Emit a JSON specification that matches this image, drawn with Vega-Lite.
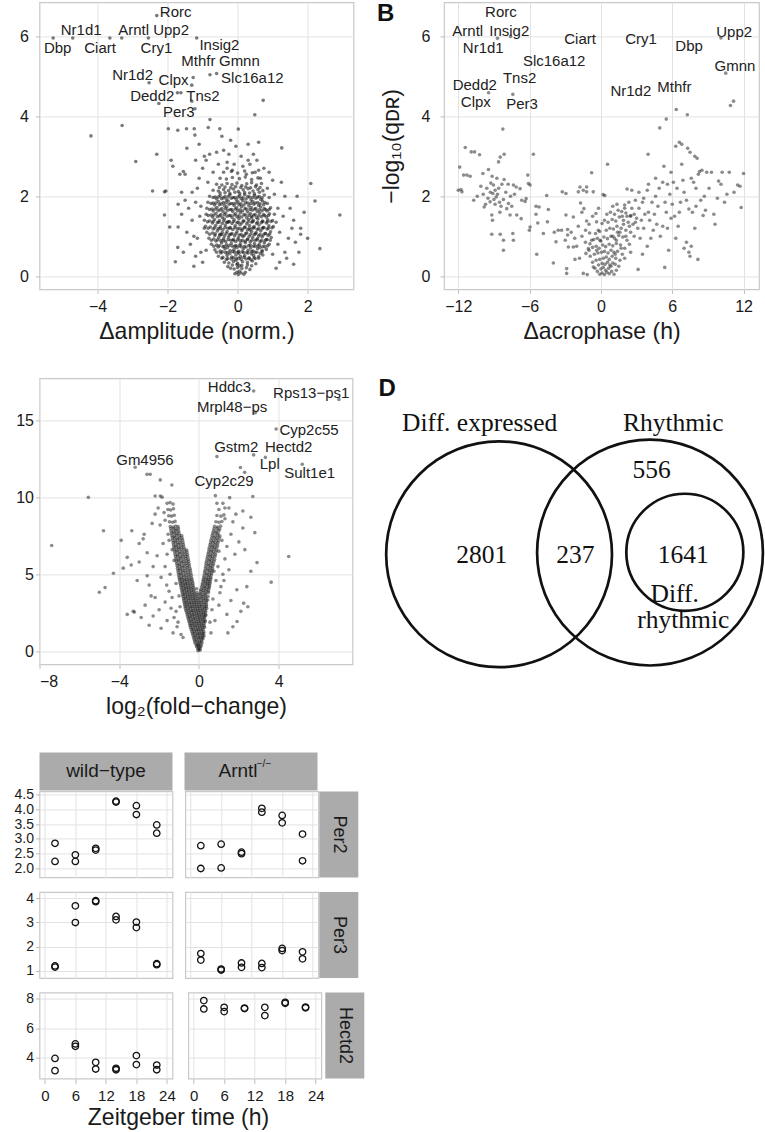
{
"$schema": "https://vega.github.io/schema/vega-lite/v6.json",
"autosize": {"type": "pad"},
"padding": {"left": 12.5, "top": 1.4, "right": 0, "bottom": 0},
"background": "white",
"config": {
  "font": "Liberation Sans",
  "view": {"stroke": "#c9c9c9", "strokeWidth": 1.2},
  "axis": {"domain": false, "gridColor": "#e2e2e2", "gridWidth": 1, "tickColor": "#bdbdbd", "tickSize": 4, "labelColor": "#1a1a1a", "titleColor": "#1a1a1a", "labelFont": "Liberation Sans", "titleFont": "Liberation Sans", "titleFontWeight": "normal", "labelFontSize": 16, "titleFontSize": 23, "labelPadding": 5, "titlePadding": 6}
},
"datasets": {
"A": [
{"x":-5.27,"y":5.96},{"x":-4.71,"y":5.96},{"x":-3.65,"y":5.96},{"x":-3.31,"y":5.96},{"x":-2.55,"y":5.96},{"x":-1.17,"y":5.96},{"x":-2.31,"y":6.52},{"x":-0.79,"y":5.04},{"x":-0.6,"y":5.07},{"x":-1.27,"y":4.97},{"x":-2.53,"y":4.84},{"x":-1.31,"y":4.78},{"x":-1.62,"y":4.59},{"x":-1.72,"y":4.59},{"x":-1.31,"y":4.38},{"x":-2.25,"y":4.32},{"x":-1.22,"y":4.19},{"x":-0.79,"y":3.92},{"x":-0.84,"y":3.72},{"x":-0.51,"y":3.69},{"x":0.02,"y":3.68},{"x":-1.98,"y":3.69},{"x":-1.71,"y":3.65},{"x":-1.46,"y":3.69},{"x":-1.24,"y":3.69},{"x":-1.22,"y":3.53},{"x":0.73,"y":4.4},{"x":0.49,"y":4.04},{"x":-4.19,"y":3.51},{"x":-3.3,"y":3.77},{"x":-2.91,"y":2.87},{"x":-2.31,"y":3.05},{"x":-2.43,"y":2.13},{"x":-2.09,"y":2.11},{"x":-2.05,"y":2.13},{"x":-2.09,"y":1.53},{"x":-1.71,"y":0.72},{"x":-1.94,"y":1.23},{"x":-1.7,"y":1.23},{"x":-1.78,"y":0.36},{"x":-1.9,"y":2.9},{"x":-1.85,"y":2.75},{"x":-1.65,"y":2.55},{"x":-1.55,"y":2.62},{"x":-1.5,"y":2.55},{"x":-1.45,"y":3.2},{"x":-1.2,"y":2.9},{"x":-1.1,"y":3.3},{"x":-0.95,"y":3.0},{"x":-0.8,"y":3.05},{"x":-0.9,"y":2.9},{"x":-0.6,"y":3.1},{"x":-0.4,"y":3.15},{"x":-0.25,"y":3.05},{"x":-0.05,"y":3.25},{"x":0.1,"y":3.0},{"x":0.35,"y":2.8},{"x":0.45,"y":3.05},{"x":0.55,"y":2.9},{"x":0.75,"y":2.7},{"x":0.9,"y":2.6},{"x":1.26,"y":3.21},{"x":2.92,"y":1.53},{"x":2.21,"y":1.88},{"x":2.09,"y":2.32},{"x":2.35,"y":0.69},{"x":1.8,"y":1.2},{"x":1.8,"y":1.05},{"x":1.75,"y":0.6},{"x":1.6,"y":1.4},{"x":1.5,"y":1.7},{"x":1.45,"y":0.95},{"x":1.4,"y":0.45},{"x":1.3,"y":1.5},{"x":1.35,"y":2.0},{"x":1.25,"y":2.35},{"x":1.2,"y":1.1},{"x":1.1,"y":0.2},{"x":1.15,"y":0.8},{"x":-1.4,"y":1.7},{"x":-1.3,"y":1.4},{"x":-1.25,"y":1.0},{"x":-1.35,"y":0.8},{"x":-1.2,"y":0.5},{"x":-1.5,"y":1.9},{"x":-1.6,"y":1.55},{"x":-1.15,"y":2.2},{"x":-1.05,"y":1.75},{"x":-1.0,"y":0.35},{"x":-1.1,"y":2.45},{"x":-0.95,"y":1.2},{"x":-0.9,"y":0.65},
{"x":-1.3,"y":2.1},{"x":-1.2,"y":1.85},{"x":-1.08,"y":1.5},{"x":-1.15,"y":0.95},{"x":-1.05,"y":0.6},{"x":1.1,"y":1.35},{"x":1.15,"y":1.7},{"x":1.05,"y":2.05},{"x":1.0,"y":0.55},{"x":1.2,"y":0.35},{"x":1.55,"y":1.2},{"x":1.65,"y":0.85},{"x":-0.7,"y":2.6},{"x":-0.55,"y":2.8},{"x":-0.3,"y":2.85},{"x":0.25,"y":2.55},{"x":0.65,"y":2.45},{"x":0.85,"y":2.2},{"x":-0.85,"y":2.35},{"x":1.0,"y":2.4},{"x":-0.45,"y":3.5},{"x":0.6,"y":3.35},{"x":-0.2,"y":3.4},{"x":0.3,"y":3.3},{"x":-1.0,"y":2.7},{"x":-1.6,"y":2.1},{"x":-1.7,"y":1.8},{"x":-1.45,"y":1.1},{"x":-1.55,"y":0.6},{"x":-1.25,"y":0.25},{"x":1.35,"y":0.6},{"x":1.6,"y":0.3},{"x":1.9,"y":1.6},{"x":1.7,"y":2.0},{"x":2.0,"y":0.95},{"x":0.5,"y":2.6},{"x":-0.15,"y":2.65},
{"x":-0.08,"y":0.06},{"x":0.02,"y":0.04},{"x":0.1,"y":0.08},{"x":0.18,"y":0.05},{"x":0.05,"y":0.12},{"x":-0.02,"y":0.1},{"x":0.22,"y":0.1},
{"x":-0.2,"y":0.2},{"x":-0.1,"y":0.18},{"x":0.0,"y":0.22},{"x":0.12,"y":0.19},{"x":0.25,"y":0.21},{"x":0.35,"y":0.17},{"x":-0.28,"y":0.24},{"x":0.06,"y":0.26},
{"x":-0.38,"y":0.35},{"x":-0.25,"y":0.33},{"x":-0.12,"y":0.37},{"x":0.0,"y":0.32},{"x":0.14,"y":0.36},{"x":0.28,"y":0.34},{"x":0.42,"y":0.38},{"x":0.52,"y":0.31},{"x":-0.05,"y":0.4},
{"x":-0.55,"y":0.5},{"x":-0.42,"y":0.47},{"x":-0.3,"y":0.52},{"x":-0.17,"y":0.48},{"x":-0.05,"y":0.53},{"x":0.08,"y":0.49},{"x":0.2,"y":0.51},{"x":0.33,"y":0.46},{"x":0.46,"y":0.52},{"x":0.6,"y":0.49},{"x":0.72,"y":0.53},{"x":0.4,"y":0.56},
{"x":-0.65,"y":0.66},{"x":-0.5,"y":0.63},{"x":-0.36,"y":0.68},{"x":-0.22,"y":0.64},{"x":-0.1,"y":0.67},{"x":0.03,"y":0.62},{"x":0.16,"y":0.68},{"x":0.3,"y":0.65},{"x":0.44,"y":0.63},{"x":0.57,"y":0.69},{"x":0.7,"y":0.64},{"x":0.82,"y":0.67},
{"x":-0.75,"y":0.8},{"x":-0.6,"y":0.78},{"x":-0.46,"y":0.83},{"x":-0.32,"y":0.79},{"x":-0.18,"y":0.82},{"x":-0.05,"y":0.77},{"x":0.08,"y":0.81},{"x":0.22,"y":0.84},{"x":0.36,"y":0.78},{"x":0.48,"y":0.82},{"x":0.62,"y":0.79},{"x":0.76,"y":0.83},{"x":0.9,"y":0.8},
{"x":-0.82,"y":0.95},{"x":-0.68,"y":0.93},{"x":-0.54,"y":0.97},{"x":-0.4,"y":0.94},{"x":-0.26,"y":0.98},{"x":-0.12,"y":0.92},{"x":0.02,"y":0.96},{"x":0.15,"y":0.99},{"x":0.29,"y":0.93},{"x":0.43,"y":0.97},{"x":0.57,"y":0.94},{"x":0.7,"y":0.98},{"x":0.84,"y":0.92},{"x":0.96,"y":0.97},
{"x":-0.88,"y":1.1},{"x":-0.72,"y":1.08},{"x":-0.58,"y":1.13},{"x":-0.44,"y":1.09},{"x":-0.3,"y":1.12},{"x":-0.16,"y":1.07},{"x":-0.02,"y":1.11},{"x":0.12,"y":1.14},{"x":0.26,"y":1.08},{"x":0.4,"y":1.12},{"x":0.53,"y":1.09},{"x":0.66,"y":1.13},{"x":0.8,"y":1.07},{"x":0.94,"y":1.11},{"x":0.35,"y":1.16},{"x":-0.5,"y":1.05},
{"x":-0.92,"y":1.25},{"x":-0.78,"y":1.23},{"x":-0.63,"y":1.27},{"x":-0.49,"y":1.24},{"x":-0.35,"y":1.28},{"x":-0.21,"y":1.22},{"x":-0.07,"y":1.26},{"x":0.07,"y":1.29},{"x":0.21,"y":1.23},{"x":0.34,"y":1.27},{"x":0.47,"y":1.24},{"x":0.61,"y":1.28},{"x":0.75,"y":1.22},{"x":0.89,"y":1.26},{"x":1.02,"y":1.24},
{"x":-0.95,"y":1.4},{"x":-0.8,"y":1.38},{"x":-0.66,"y":1.42},{"x":-0.52,"y":1.39},{"x":-0.38,"y":1.43},{"x":-0.24,"y":1.37},{"x":-0.1,"y":1.41},{"x":0.04,"y":1.44},{"x":0.18,"y":1.38},{"x":0.32,"y":1.42},{"x":0.45,"y":1.39},{"x":0.58,"y":1.43},{"x":0.72,"y":1.37},{"x":0.86,"y":1.41},{"x":1.0,"y":1.39},{"x":0.4,"y":1.46},{"x":-0.3,"y":1.35},
{"x":-0.9,"y":1.55},{"x":-0.76,"y":1.53},{"x":-0.62,"y":1.57},{"x":-0.48,"y":1.54},{"x":-0.34,"y":1.58},{"x":-0.2,"y":1.52},{"x":-0.06,"y":1.56},{"x":0.08,"y":1.59},{"x":0.22,"y":1.53},{"x":0.36,"y":1.57},{"x":0.5,"y":1.54},{"x":0.63,"y":1.58},{"x":0.77,"y":1.52},{"x":0.91,"y":1.56},{"x":1.05,"y":1.55},
{"x":-0.88,"y":1.7},{"x":-0.73,"y":1.68},{"x":-0.59,"y":1.72},{"x":-0.45,"y":1.69},{"x":-0.31,"y":1.73},{"x":-0.17,"y":1.67},{"x":-0.03,"y":1.71},{"x":0.11,"y":1.74},{"x":0.25,"y":1.68},{"x":0.39,"y":1.72},{"x":0.52,"y":1.69},{"x":0.66,"y":1.73},{"x":0.8,"y":1.67},{"x":0.94,"y":1.71},
{"x":-0.85,"y":1.85},{"x":-0.7,"y":1.83},{"x":-0.55,"y":1.87},{"x":-0.41,"y":1.84},{"x":-0.27,"y":1.88},{"x":-0.13,"y":1.82},{"x":0.01,"y":1.86},{"x":0.15,"y":1.89},{"x":0.29,"y":1.83},{"x":0.43,"y":1.87},{"x":0.57,"y":1.84},{"x":0.71,"y":1.88},{"x":0.85,"y":1.82},
{"x":-0.8,"y":2.0},{"x":-0.64,"y":1.98},{"x":-0.5,"y":2.02},{"x":-0.36,"y":1.99},{"x":-0.22,"y":2.03},{"x":-0.08,"y":1.97},{"x":0.06,"y":2.01},{"x":0.2,"y":2.04},{"x":0.34,"y":1.98},{"x":0.48,"y":2.02},{"x":0.62,"y":1.99},{"x":0.76,"y":2.03},{"x":0.9,"y":1.97},
{"x":-0.7,"y":2.15},{"x":-0.55,"y":2.13},{"x":-0.4,"y":2.17},{"x":-0.26,"y":2.14},{"x":-0.12,"y":2.18},{"x":0.02,"y":2.12},{"x":0.16,"y":2.16},{"x":0.3,"y":2.19},{"x":0.44,"y":2.13},{"x":0.58,"y":2.17},{"x":0.72,"y":2.14},
{"x":-0.6,"y":2.3},{"x":-0.45,"y":2.28},{"x":-0.3,"y":2.32},{"x":-0.16,"y":2.29},{"x":-0.02,"y":2.33},{"x":0.12,"y":2.27},{"x":0.26,"y":2.31},{"x":0.4,"y":2.34},{"x":0.54,"y":2.28},{"x":0.68,"y":2.32},
{"x":-0.5,"y":2.45},{"x":-0.32,"y":2.43},{"x":-0.15,"y":2.47},{"x":0.05,"y":2.44},{"x":0.22,"y":2.48},{"x":0.4,"y":2.42},{"x":0.58,"y":2.46},
{"x":-0.4,"y":2.6},{"x":-0.18,"y":2.62},{"x":0.0,"y":2.58},{"x":0.2,"y":2.63},{"x":0.42,"y":2.59},{"x":0.6,"y":2.65},{"x":0.15,"y":2.75},{"x":-0.1,"y":2.8},{"x":0.3,"y":2.9},{"x":-0.3,"y":2.7},
{"x":-0.32,"y":0.42},{"x":-0.18,"y":0.43},{"x":-0.04,"y":0.44},{"x":0.1,"y":0.42},{"x":0.24,"y":0.43},{"x":0.38,"y":0.41},{"x":0.5,"y":0.44},
{"x":-0.48,"y":0.58},{"x":-0.35,"y":0.59},{"x":-0.22,"y":0.57},{"x":-0.09,"y":0.6},{"x":0.04,"y":0.57},{"x":0.17,"y":0.59},{"x":0.3,"y":0.58},{"x":0.5,"y":0.6},{"x":0.65,"y":0.57},
{"x":-0.56,"y":0.73},{"x":-0.42,"y":0.74},{"x":-0.29,"y":0.72},{"x":-0.15,"y":0.75},{"x":-0.02,"y":0.72},{"x":0.1,"y":0.74},{"x":0.24,"y":0.73},{"x":0.37,"y":0.71},{"x":0.5,"y":0.75},{"x":0.64,"y":0.72},{"x":0.78,"y":0.74},
{"x":-0.62,"y":0.88},{"x":-0.48,"y":0.89},{"x":-0.34,"y":0.87},{"x":-0.2,"y":0.9},{"x":-0.06,"y":0.87},{"x":0.08,"y":0.89},{"x":0.22,"y":0.88},{"x":0.36,"y":0.86},{"x":0.5,"y":0.9},{"x":0.64,"y":0.87},{"x":0.78,"y":0.89},
{"x":-0.65,"y":1.02},{"x":-0.51,"y":1.03},{"x":-0.37,"y":1.01},{"x":-0.23,"y":1.04},{"x":-0.09,"y":1.01},{"x":0.05,"y":1.03},{"x":0.19,"y":1.02},{"x":0.33,"y":1.0},{"x":0.47,"y":1.04},{"x":0.6,"y":1.01},{"x":0.73,"y":1.03},{"x":0.87,"y":1.02},
{"x":-0.7,"y":1.18},{"x":-0.56,"y":1.19},{"x":-0.42,"y":1.17},{"x":-0.28,"y":1.2},{"x":-0.14,"y":1.17},{"x":0.0,"y":1.19},{"x":0.14,"y":1.18},{"x":0.28,"y":1.16},{"x":0.42,"y":1.2},{"x":0.56,"y":1.17},{"x":0.7,"y":1.19},{"x":0.84,"y":1.18},
{"x":-0.72,"y":1.33},{"x":-0.58,"y":1.34},{"x":-0.44,"y":1.32},{"x":-0.3,"y":1.35},{"x":-0.16,"y":1.32},{"x":-0.02,"y":1.34},{"x":0.12,"y":1.33},{"x":0.26,"y":1.31},{"x":0.4,"y":1.35},{"x":0.54,"y":1.32},{"x":0.68,"y":1.34},{"x":0.82,"y":1.33},
{"x":-0.72,"y":1.48},{"x":-0.58,"y":1.49},{"x":-0.44,"y":1.47},{"x":-0.3,"y":1.5},{"x":-0.16,"y":1.47},{"x":-0.02,"y":1.49},{"x":0.12,"y":1.48},{"x":0.26,"y":1.46},{"x":0.4,"y":1.5},{"x":0.54,"y":1.47},{"x":0.68,"y":1.49},{"x":0.82,"y":1.48},
{"x":-0.7,"y":1.63},{"x":-0.56,"y":1.64},{"x":-0.42,"y":1.62},{"x":-0.28,"y":1.65},{"x":-0.14,"y":1.62},{"x":0.0,"y":1.64},{"x":0.14,"y":1.63},{"x":0.28,"y":1.61},{"x":0.42,"y":1.65},{"x":0.56,"y":1.62},{"x":0.7,"y":1.64},{"x":0.84,"y":1.63},
{"x":-0.66,"y":1.78},{"x":-0.52,"y":1.79},{"x":-0.38,"y":1.77},{"x":-0.24,"y":1.8},{"x":-0.1,"y":1.77},{"x":0.04,"y":1.79},{"x":0.18,"y":1.78},{"x":0.32,"y":1.76},{"x":0.46,"y":1.8},{"x":0.6,"y":1.77},{"x":0.74,"y":1.79},
{"x":-0.6,"y":1.93},{"x":-0.46,"y":1.94},{"x":-0.32,"y":1.92},{"x":-0.18,"y":1.95},{"x":-0.04,"y":1.92},{"x":0.1,"y":1.94},{"x":0.24,"y":1.93},{"x":0.38,"y":1.91},{"x":0.52,"y":1.95},{"x":0.66,"y":1.92},
{"x":-0.5,"y":2.08},{"x":-0.36,"y":2.09},{"x":-0.22,"y":2.07},{"x":-0.08,"y":2.1},{"x":0.06,"y":2.07},{"x":0.2,"y":2.09},{"x":0.34,"y":2.08},{"x":0.48,"y":2.06},{"x":0.62,"y":2.1},
{"x":-0.15,"y":0.28},{"x":-0.02,"y":0.29},{"x":0.12,"y":0.27},{"x":0.28,"y":0.28},{"x":0.4,"y":0.26},
{"x":-0.45,"y":0.45},{"x":-0.28,"y":0.44},{"x":-0.12,"y":0.46},{"x":0.03,"y":0.45},{"x":0.18,"y":0.47},{"x":0.32,"y":0.44},{"x":0.47,"y":0.46},{"x":0.6,"y":0.45},
{"x":-0.6,"y":0.6},{"x":-0.44,"y":0.61},{"x":-0.29,"y":0.59},{"x":-0.14,"y":0.62},{"x":0.0,"y":0.6},{"x":0.13,"y":0.61},{"x":0.26,"y":0.59},{"x":0.4,"y":0.62},{"x":0.55,"y":0.6},{"x":0.7,"y":0.61},
{"x":-0.68,"y":0.75},{"x":-0.52,"y":0.76},{"x":-0.38,"y":0.74},{"x":-0.24,"y":0.77},{"x":-0.08,"y":0.75},{"x":0.05,"y":0.76},{"x":0.19,"y":0.74},{"x":0.32,"y":0.77},{"x":0.45,"y":0.75},{"x":0.58,"y":0.76},{"x":0.72,"y":0.74},{"x":0.86,"y":0.76},
{"x":-0.75,"y":0.9},{"x":-0.57,"y":0.91},{"x":-0.41,"y":0.89},{"x":-0.27,"y":0.92},{"x":-0.13,"y":0.9},{"x":0.0,"y":0.91},{"x":0.14,"y":0.89},{"x":0.28,"y":0.92},{"x":0.41,"y":0.9},{"x":0.55,"y":0.91},{"x":0.68,"y":0.89},{"x":0.82,"y":0.92},{"x":0.93,"y":0.9},
{"x":-0.8,"y":1.05},{"x":-0.64,"y":1.06},{"x":-0.46,"y":1.04},{"x":-0.33,"y":1.07},{"x":-0.19,"y":1.05},{"x":-0.05,"y":1.06},{"x":0.1,"y":1.04},{"x":0.23,"y":1.07},{"x":0.37,"y":1.05},{"x":0.51,"y":1.06},{"x":0.64,"y":1.04},{"x":0.78,"y":1.07},{"x":0.91,"y":1.05},
{"x":-0.84,"y":1.2},{"x":-0.66,"y":1.21},{"x":-0.5,"y":1.19},{"x":-0.36,"y":1.22},{"x":-0.22,"y":1.2},{"x":-0.08,"y":1.21},{"x":0.06,"y":1.19},{"x":0.2,"y":1.22},{"x":0.33,"y":1.2},{"x":0.47,"y":1.21},{"x":0.6,"y":1.19},{"x":0.73,"y":1.22},{"x":0.88,"y":1.2},{"x":0.98,"y":1.21},
{"x":-0.86,"y":1.36},{"x":-0.7,"y":1.37},{"x":-0.54,"y":1.35},{"x":-0.4,"y":1.38},{"x":-0.25,"y":1.36},{"x":-0.12,"y":1.37},{"x":0.02,"y":1.35},{"x":0.16,"y":1.38},{"x":0.3,"y":1.36},{"x":0.43,"y":1.37},{"x":0.57,"y":1.35},{"x":0.71,"y":1.38},{"x":0.85,"y":1.36},{"x":0.95,"y":1.37},
{"x":-0.84,"y":1.52},{"x":-0.68,"y":1.53},{"x":-0.52,"y":1.51},{"x":-0.38,"y":1.54},{"x":-0.24,"y":1.52},{"x":-0.1,"y":1.53},{"x":0.04,"y":1.51},{"x":0.18,"y":1.54},{"x":0.32,"y":1.52},{"x":0.46,"y":1.53},{"x":0.6,"y":1.51},{"x":0.74,"y":1.54},{"x":0.88,"y":1.52},
{"x":-0.8,"y":1.67},{"x":-0.64,"y":1.68},{"x":-0.5,"y":1.66},{"x":-0.35,"y":1.69},{"x":-0.21,"y":1.67},{"x":-0.07,"y":1.68},{"x":0.07,"y":1.66},{"x":0.21,"y":1.69},{"x":0.35,"y":1.67},{"x":0.49,"y":1.68},{"x":0.62,"y":1.66},{"x":0.76,"y":1.69},{"x":0.9,"y":1.67},
{"x":-0.76,"y":1.82},{"x":-0.62,"y":1.83},{"x":-0.47,"y":1.81},{"x":-0.33,"y":1.84},{"x":-0.19,"y":1.82},{"x":-0.05,"y":1.83},{"x":0.09,"y":1.81},{"x":0.23,"y":1.84},{"x":0.37,"y":1.82},{"x":0.5,"y":1.83},{"x":0.64,"y":1.81},{"x":0.78,"y":1.84},
{"x":-0.7,"y":1.97},{"x":-0.55,"y":1.98},{"x":-0.41,"y":1.96},{"x":-0.27,"y":1.99},{"x":-0.13,"y":1.97},{"x":0.01,"y":1.98},{"x":0.15,"y":1.96},{"x":0.29,"y":1.99},{"x":0.43,"y":1.97},{"x":0.57,"y":1.98},{"x":0.7,"y":1.96},
{"x":-0.52,"y":2.22},{"x":-0.36,"y":2.23},{"x":-0.2,"y":2.21},{"x":-0.06,"y":2.24},{"x":0.09,"y":2.22},{"x":0.23,"y":2.23},{"x":0.37,"y":2.21},{"x":0.51,"y":2.24},{"x":0.64,"y":2.22}
],
"Al": [
{"x":-1.77,"y":6.62,"g":"Rorc"},{"x":-4.47,"y":6.15,"g":"Nr1d1"},{"x":-2.97,"y":6.15,"g":"Arntl"},{"x":-1.9,"y":6.15,"g":"Upp2"},{"x":-5.14,"y":5.7,"g":"Dbp"},{"x":-3.93,"y":5.7,"g":"Ciart"},{"x":-2.32,"y":5.7,"g":"Cry1"},{"x":-0.52,"y":5.78,"g":"Insig2"},{"x":-1.12,"y":5.38,"g":"Mthfr"},{"x":0.05,"y":5.38,"g":"Gmnn"},{"x":-3.0,"y":5.03,"g":"Nr1d2"},{"x":-1.83,"y":4.92,"g":"Clpx"},{"x":0.42,"y":4.95,"g":"Slc16a12"},{"x":-2.44,"y":4.52,"g":"Dedd2"},{"x":-0.99,"y":4.52,"g":"Tns2"},{"x":-1.68,"y":4.1,"g":"Per3"}
],
"B": [
{"x":10.1,"y":5.96},{"x":10.5,"y":5.08},{"x":-8.7,"y":5.95},{"x":-7.6,"y":6.0},{"x":-9.45,"y":4.59},{"x":-7.41,"y":4.55},
{"x":-11.88,"y":2.73},{"x":-11.77,"y":2.17},{"x":-11.69,"y":2.11},{"x":-11.41,"y":3.22},{"x":-11.55,"y":2.53},{"x":-11.27,"y":2.53},{"x":-10.91,"y":3.11},{"x":-10.63,"y":3.11},{"x":-10.21,"y":3.04},{"x":-9.93,"y":2.57},{"x":-9.46,"y":2.67},{"x":-9.82,"y":1.73},{"x":-9.26,"y":2.33},{"x":-9.04,"y":2.28},{"x":-9.09,"y":2.07},{"x":-8.81,"y":1.98},{"x":-9.32,"y":1.86},{"x":-8.53,"y":1.85},{"x":-8.2,"y":1.92},{"x":-8.33,"y":2.3},{"x":-8.14,"y":2.42},{"x":-8.61,"y":2.86},{"x":-8.47,"y":2.98},{"x":-8.14,"y":3.05},{"x":-8.25,"y":3.68},{"x":-9.18,"y":1.53},{"x":-9.12,"y":1.4},{"x":-9.18,"y":1.05},{"x":-8.47,"y":1.05},{"x":-8.2,"y":0.9},{"x":-8.2,"y":0.65},{"x":-7.78,"y":1.82},{"x":-7.64,"y":1.53},{"x":-7.41,"y":1.07},{"x":-7.36,"y":0.9},{"x":-7.92,"y":1.69},{"x":-7.08,"y":1.53},{"x":-7.36,"y":2.28},{"x":-7.13,"y":2.23},{"x":-6.8,"y":2.19},{"x":-7.27,"y":2.05},{"x":-6.66,"y":1.9},{"x":-6.38,"y":1.87},{"x":-6.29,"y":1.94},{"x":-6.71,"y":1.44},{"x":-5.96,"y":1.23},{"x":-6.02,"y":1.15},{"x":-6.15,"y":2.53},{"x":-6.1,"y":2.32},{"x":-5.96,"y":2.28},{"x":-5.68,"y":3.05},{"x":-5.46,"y":1.75},{"x":-5.2,"y":1.73},{"x":-5.46,"y":1.55},{"x":-5.4,"y":0.55},{"x":-5.31,"y":1.33},{"x":-4.84,"y":1.07},{"x":-4.56,"y":2.02},{"x":-4.42,"y":1.67},{"x":-4.5,"y":1.36},{"x":-4.0,"y":0.33},{"x":-3.92,"y":1.1},{"x":-3.78,"y":0.86},{"x":-3.59,"y":1.15},{"x":-3.31,"y":1.15},{"x":-3.25,"y":2.11},{"x":-2.94,"y":2.07},{"x":-2.94,"y":1.53},{"x":-2.8,"y":1.17},{"x":-2.8,"y":1.03},{"x":-2.74,"y":0.73},{"x":-2.88,"y":0.19},{"x":-2.88,"y":0.07},{"x":-2.32,"y":1.48},{"x":-2.32,"y":0.73},{"x":-2.18,"y":0.42},{"x":-2.04,"y":0.75},{"x":-1.76,"y":2.23},{"x":-1.9,"y":2.11},{"x":-1.71,"y":1.83},{"x":-1.48,"y":2.15},{"x":-1.43,"y":1.69},{"x":-1.2,"y":2.23},{"x":-1.2,"y":2.11},{"x":-1.2,"y":1.38},{"x":-1.29,"y":1.15},{"x":-1.26,"y":0.57},{"x":-1.06,"y":0.69},{"x":-0.78,"y":2.59},{"x":-0.64,"y":2.11},{"x":-0.45,"y":1.07},{"x":-0.78,"y":0.9},{"x":-0.92,"y":0.81},{"x":-1.15,"y":0.04},{"x":-1.48,"y":0.07},{"x":-0.64,"y":0.23},{"x":-0.42,"y":1.57},{"x":-0.36,"y":1.36},{"x":-0.22,"y":1.15},{"x":-0.08,"y":0.9},{"x":-0.36,"y":0.65},{"x":0.19,"y":2.04},{"x":0.33,"y":2.02},{"x":0.56,"y":2.8},
{"x":-9.6,"y":2.2},{"x":-9.5,"y":1.95},{"x":-9.3,"y":2.1},{"x":-8.9,"y":2.15},{"x":-8.7,"y":2.05},{"x":-8.6,"y":2.2},{"x":-8.9,"y":1.8},{"x":-9.0,"y":1.92},{"x":-8.4,"y":1.75},{"x":-8.0,"y":2.1},{"x":-7.8,"y":2.3},{"x":-9.7,"y":1.8},{"x":-10.1,"y":2.25},{"x":-9.9,"y":2.05},{"x":-8.75,"y":2.45},{"x":-9.15,"y":2.5},{"x":-8.5,"y":1.6},{"x":-7.6,"y":2.0},{"x":-7.5,"y":1.75},{"x":-10.4,"y":2.0},{"x":-10.7,"y":1.9},{"x":-11.0,"y":2.5},{"x":-12.0,"y":2.15},
{"x":-0.1,"y":0.05},{"x":0.1,"y":0.08},{"x":0.3,"y":0.04},{"x":0.5,"y":0.1},{"x":0.7,"y":0.06},{"x":0.9,"y":0.12},{"x":1.1,"y":0.05},{"x":-0.3,"y":0.12},{"x":0.0,"y":0.18},{"x":0.2,"y":0.22},{"x":0.4,"y":0.15},{"x":0.65,"y":0.2},{"x":0.85,"y":0.25},{"x":1.3,"y":0.15},{"x":-0.5,"y":0.2},{"x":-0.2,"y":0.28},{"x":0.1,"y":0.32},{"x":0.35,"y":0.3},{"x":0.55,"y":0.35},{"x":0.75,"y":0.28},{"x":1.0,"y":0.33},{"x":1.2,"y":0.3},{"x":1.5,"y":0.25},{"x":-0.7,"y":0.35},{"x":-0.4,"y":0.4},{"x":-0.1,"y":0.42},{"x":0.2,"y":0.45},{"x":0.45,"y":0.48},{"x":0.7,"y":0.42},{"x":0.95,"y":0.5},{"x":1.25,"y":0.45},{"x":1.6,"y":0.4},{"x":-0.9,"y":0.5},{"x":-0.55,"y":0.55},{"x":-0.25,"y":0.58},{"x":0.05,"y":0.6},{"x":0.3,"y":0.62},{"x":0.6,"y":0.58},{"x":0.85,"y":0.65},{"x":1.1,"y":0.6},{"x":1.4,"y":0.62},{"x":1.8,"y":0.55},{"x":-1.0,"y":0.65},{"x":-0.7,"y":0.72},{"x":-0.4,"y":0.75},{"x":-0.15,"y":0.7},{"x":0.15,"y":0.78},{"x":0.4,"y":0.74},{"x":0.7,"y":0.8},{"x":1.0,"y":0.76},{"x":1.3,"y":0.82},{"x":1.65,"y":0.78},{"x":2.0,"y":0.7},{"x":-1.3,"y":0.85},{"x":-0.6,"y":0.92},{"x":-0.3,"y":0.95},{"x":0.0,"y":0.88},{"x":0.25,"y":0.98},{"x":0.55,"y":0.94},{"x":0.85,"y":1.0},{"x":1.15,"y":0.95},{"x":1.5,"y":1.02},{"x":1.85,"y":0.98},{"x":2.2,"y":0.9},{"x":-1.6,"y":1.0},{"x":-0.95,"y":1.08},{"x":-0.1,"y":1.12},{"x":0.45,"y":1.15},{"x":0.75,"y":1.2},{"x":1.05,"y":1.18},{"x":1.35,"y":1.25},{"x":1.7,"y":1.2},{"x":2.1,"y":1.15},{"x":2.5,"y":1.1},{"x":-1.9,"y":1.25},{"x":-1.0,"y":1.3},{"x":0.1,"y":1.32},{"x":0.3,"y":1.4},{"x":0.6,"y":1.35},{"x":0.95,"y":1.42},{"x":1.25,"y":1.38},{"x":1.55,"y":1.48},{"x":1.9,"y":1.4},{"x":2.3,"y":1.35},{"x":2.7,"y":1.3},{"x":-0.7,"y":1.5},{"x":0.5,"y":1.55},{"x":0.8,"y":1.6},{"x":1.15,"y":1.55},{"x":1.45,"y":1.65},{"x":1.75,"y":1.62},{"x":2.1,"y":1.58},{"x":2.5,"y":1.52},{"x":-0.2,"y":1.7},{"x":1.0,"y":1.75},{"x":1.35,"y":1.8},{"x":2.0,"y":1.78},{"x":2.35,"y":1.85},{"x":-1.6,"y":1.6},{"x":-2.5,"y":1.1},{"x":-2.2,"y":0.95},{"x":-3.0,"y":0.9},{"x":-1.8,"y":0.45},
{"x":6.34,"y":4.17},{"x":7.27,"y":4.04},{"x":5.5,"y":3.93},{"x":4.95,"y":3.71},{"x":11.16,"y":4.38},{"x":10.9,"y":4.27},{"x":3.97,"y":3.05},{"x":12.0,"y":2.57},{"x":11.8,"y":1.72},{"x":8.16,"y":0.42},{"x":5.37,"y":0.22},{"x":3.13,"y":0.17},{"x":6.6,"y":3.35},{"x":6.8,"y":3.3},{"x":6.3,"y":3.25},{"x":7.5,"y":3.1},{"x":7.9,"y":3.0},{"x":8.1,"y":2.95},{"x":8.3,"y":2.62},{"x":8.5,"y":2.65},{"x":8.2,"y":2.55},{"x":8.9,"y":2.6},{"x":9.9,"y":2.38},{"x":10.1,"y":2.3},{"x":10.8,"y":2.6},{"x":11.5,"y":2.28},{"x":11.7,"y":2.25},{"x":10.6,"y":2.05},{"x":10.4,"y":1.85},{"x":9.8,"y":1.95},{"x":9.5,"y":1.55},{"x":8.6,"y":1.52},{"x":8.0,"y":1.75},{"x":7.7,"y":1.6},{"x":7.4,"y":1.68},{"x":7.9,"y":1.2},{"x":7.2,"y":0.85},{"x":7.4,"y":0.6},{"x":7.5,"y":0.5},{"x":7.6,"y":0.75},{"x":6.5,"y":1.25},{"x":6.2,"y":1.5},{"x":6.0,"y":1.8},{"x":5.8,"y":2.05},{"x":5.6,"y":2.3},{"x":5.2,"y":2.35},{"x":4.9,"y":2.2},{"x":4.6,"y":2.0},{"x":4.3,"y":1.85},{"x":4.0,"y":1.6},{"x":3.7,"y":1.55},{"x":3.4,"y":1.4},{"x":3.1,"y":1.2},{"x":2.8,"y":1.0},{"x":2.4,"y":0.8},{"x":5.3,"y":2.75},{"x":5.5,"y":1.6},{"x":5.2,"y":1.25},{"x":5.0,"y":1.0},{"x":4.7,"y":1.3},{"x":4.4,"y":1.15},{"x":4.2,"y":0.95},{"x":3.9,"y":0.75},{"x":3.5,"y":0.55},{"x":6.9,"y":2.4},{"x":7.0,"y":2.1},{"x":7.2,"y":1.9},{"x":6.7,"y":1.85},{"x":6.4,"y":2.2},{"x":6.1,"y":2.35},{"x":5.9,"y":1.45},{"x":6.6,"y":1.6},{"x":8.0,"y":2.2},{"x":8.4,"y":1.9},{"x":8.7,"y":2.0},{"x":9.1,"y":2.2},{"x":9.3,"y":2.6},{"x":7.6,"y":2.45},{"x":7.8,"y":2.35},{"x":5.6,"y":1.2},{"x":4.8,"y":1.75},{"x":4.5,"y":1.55},{"x":3.6,"y":1.95},{"x":3.9,"y":2.15},{"x":3.2,"y":2.1},{"x":2.6,"y":2.15},{"x":2.2,"y":2.18},{"x":4.1,"y":1.4},{"x":3.3,"y":0.95},{"x":2.9,"y":1.35},{"x":2.5,"y":1.5},{"x":5.9,"y":2.6},{"x":4.6,"y":2.45},{"x":9.6,"y":1.3},{"x":10.2,"y":2.6},{"x":11.2,"y":2.1},{"x":6.3,"y":0.95},{"x":5.7,"y":0.65},{"x":8.8,"y":1.65},{"x":5.4,"y":1.85},{"x":4.0,"y":2.3},{"x":2.0,"y":1.7},{"x":6.8,"y":2.8},{"x":7.3,"y":3.2},{"x":7.0,"y":0.7},
{"x":1.6,"y":1.1},{"x":1.9,"y":1.3},{"x":2.2,"y":1.5},{"x":2.6,"y":1.7},{"x":2.9,"y":1.9},{"x":1.3,"y":0.9},{"x":1.7,"y":0.7},{"x":2.1,"y":1.0},{"x":2.4,"y":1.25},{"x":2.8,"y":1.55},{"x":3.2,"y":1.7},{"x":3.5,"y":1.85},{"x":1.0,"y":1.0},{"x":1.4,"y":1.1},{"x":1.8,"y":1.5},{"x":3.0,"y":1.45},{"x":3.6,"y":1.2},{"x":2.0,"y":0.45},{"x":2.5,"y":0.6},{"x":1.2,"y":0.55}
],
"Bl": [
{"x":-8.41,"y":6.62,"g":"Rorc"},{"x":-11.2,"y":6.14,"g":"Arntl"},{"x":-7.71,"y":6.14,"g":"Insig2"},{"x":-9.9,"y":5.72,"g":"Nr1d1"},{"x":-1.75,"y":5.93,"g":"Ciart"},{"x":3.38,"y":5.93,"g":"Cry1"},{"x":7.42,"y":5.75,"g":"Dbp"},{"x":11.21,"y":6.12,"g":"Upp2"},{"x":11.28,"y":5.26,"g":"Gmnn"},{"x":-3.93,"y":5.38,"g":"Slc16a12"},{"x":-6.84,"y":4.96,"g":"Tns2"},{"x":-10.61,"y":4.78,"g":"Dedd2"},{"x":-10.52,"y":4.35,"g":"Clpx"},{"x":-6.63,"y":4.31,"g":"Per3"},{"x":2.52,"y":4.63,"g":"Nr1d2"},{"x":6.18,"y":4.73,"g":"Mthfr"}
],
"C": [
{"x":2.74,"y":16.88},{"x":7.02,"y":16.34},{"x":2.83,"y":15.48},{"x":3.87,"y":14.42},{"x":0.9,"y":12.63},{"x":2.74,"y":12.74},{"x":3.33,"y":12.58},{"x":2.08,"y":11.92},{"x":5.18,"y":12.13},{"x":-3.2,"y":11.94},{"x":2.29,"y":11.61},{"x":-5.55,"y":9.99},{"x":-7.39,"y":6.87},{"x":-4.79,"y":7.82},{"x":-4.29,"y":5.07},{"x":-4.71,"y":4.14},{"x":-5.0,"y":3.84},{"x":4.5,"y":6.15},{"x":3.62,"y":4.49},{"x":2.91,"y":5.76},{"x":-2.61,"y":11.48},{"x":-2.45,"y":11.48},{"x":-1.94,"y":11.12},{"x":-1.36,"y":10.79},{"x":-2.2,"y":10.08},{"x":-1.94,"y":10.08},{"x":0.82,"y":10.1},{"x":1.54,"y":9.97},{"x":2.7,"y":10.04},{"x":-3.37,"y":7.82},{"x":-2.75,"y":7.6},{"x":-3.24,"y":2.55},{"x":2.24,"y":3.13},{"x":1.91,"y":1.94},
{"x":-1.6,"y":6.3},{"x":-1.8,"y":7.0},{"x":-1.7,"y":5.5},{"x":-1.9,"y":4.8},{"x":-2.1,"y":6.2},{"x":-1.5,"y":3.9},{"x":-1.7,"y":3.2},{"x":-1.4,"y":2.8},{"x":-1.25,"y":2.2},{"x":-1.1,"y":1.6},{"x":-0.9,"y":1.1},{"x":-2.3,"y":5.5},{"x":-2.5,"y":4.3},{"x":-2.2,"y":3.5},{"x":-2.0,"y":2.7},{"x":-2.6,"y":6.4},{"x":-2.8,"y":7.3},{"x":-3.0,"y":5.8},{"x":-2.7,"y":3.0},{"x":-1.95,"y":8.2},{"x":-2.05,"y":9.3},{"x":-1.75,"y":9.0},{"x":-1.85,"y":10.0},{"x":-1.7,"y":8.5},{"x":-1.3,"y":1.2},{"x":-1.6,"y":2.0},{"x":-1.9,"y":1.5},{"x":-2.3,"y":2.3},{"x":-2.4,"y":3.6},{"x":-2.6,"y":4.9},{"x":-3.1,"y":4.6},{"x":-3.4,"y":5.6},{"x":-3.6,"y":6.1},{"x":-3.0,"y":7.0},{"x":-2.35,"y":8.3},{"x":-1.55,"y":7.6},{"x":-1.62,"y":4.3},{"x":-1.45,"y":5.0},{"x":-1.35,"y":3.5},{"x":-1.15,"y":2.6},{"x":-1.05,"y":1.9},{"x":-0.8,"y":0.9},{"x":-3.3,"y":2.6},{"x":-3.6,"y":2.4},{"x":-2.9,"y":2.2},{"x":-2.5,"y":1.7},{"x":-3.8,"y":5.4},{"x":-3.9,"y":7.2},{"x":-2.2,"y":8.9},{"x":-1.15,"y":4.4},{"x":-1.25,"y":5.9},{"x":-1.35,"y":6.6},{"x":-1.5,"y":7.2},{"x":-1.0,"y":3.6},{"x":-0.95,"y":2.9},
{"x":0.6,"y":1.2},{"x":0.8,"y":2.0},{"x":1.0,"y":3.0},{"x":1.1,"y":4.2},{"x":1.2,"y":5.0},{"x":1.3,"y":6.0},{"x":1.4,"y":6.8},{"x":1.6,"y":7.6},{"x":1.7,"y":8.4},{"x":0.7,"y":3.4},{"x":0.85,"y":4.6},{"x":0.95,"y":5.5},{"x":1.0,"y":6.5},{"x":1.15,"y":7.2},{"x":1.5,"y":5.3},{"x":1.8,"y":6.3},{"x":2.0,"y":7.1},{"x":2.2,"y":8.0},{"x":1.9,"y":4.0},{"x":1.6,"y":3.3},{"x":1.4,"y":2.4},{"x":1.7,"y":1.6},{"x":2.1,"y":2.6},{"x":2.4,"y":4.2},{"x":2.6,"y":5.2},{"x":2.3,"y":6.6},{"x":1.85,"y":8.9},{"x":1.5,"y":9.3},{"x":2.2,"y":9.1},{"x":1.3,"y":8.6},{"x":0.9,"y":9.6},{"x":2.6,"y":8.7},{"x":0.55,"y":1.9},{"x":0.65,"y":2.7},{"x":0.75,"y":5.2},{"x":1.05,"y":3.8},{"x":1.25,"y":4.6},{"x":1.45,"y":1.2},{"x":2.8,"y":7.7},{"x":2.45,"y":2.9},
{"x":-0.05,"y":0.05},{"x":0.05,"y":0.08},{"x":0.0,"y":0.15},
{"x":-0.12,"y":0.3},{"x":0.0,"y":0.28},{"x":0.1,"y":0.33},{"x":-0.05,"y":0.4},
{"x":-0.2,"y":0.55},{"x":-0.08,"y":0.52},{"x":0.04,"y":0.58},{"x":0.15,"y":0.54},
{"x":-0.25,"y":0.8},{"x":-0.13,"y":0.77},{"x":0.0,"y":0.83},{"x":0.12,"y":0.79},{"x":0.2,"y":0.82},
{"x":-0.3,"y":1.05},{"x":-0.18,"y":1.02},{"x":-0.06,"y":1.08},{"x":0.06,"y":1.04},{"x":0.18,"y":1.07},{"x":0.25,"y":1.0},
{"x":-0.36,"y":1.3},{"x":-0.24,"y":1.27},{"x":-0.12,"y":1.33},{"x":0.0,"y":1.29},{"x":0.12,"y":1.32},{"x":0.24,"y":1.28},
{"x":-0.42,"y":1.55},{"x":-0.3,"y":1.52},{"x":-0.18,"y":1.58},{"x":-0.06,"y":1.54},{"x":0.06,"y":1.57},{"x":0.18,"y":1.53},{"x":0.28,"y":1.56},
{"x":-0.47,"y":1.8},{"x":-0.35,"y":1.77},{"x":-0.23,"y":1.83},{"x":-0.11,"y":1.79},{"x":0.01,"y":1.82},{"x":0.13,"y":1.78},{"x":0.25,"y":1.81},
{"x":-0.52,"y":2.05},{"x":-0.4,"y":2.02},{"x":-0.28,"y":2.08},{"x":-0.16,"y":2.04},{"x":-0.04,"y":2.07},{"x":0.08,"y":2.03},{"x":0.2,"y":2.06},{"x":0.3,"y":2.02},
{"x":-0.58,"y":2.3},{"x":-0.46,"y":2.27},{"x":-0.34,"y":2.33},{"x":-0.22,"y":2.29},{"x":-0.1,"y":2.32},{"x":0.02,"y":2.28},{"x":0.14,"y":2.31},{"x":0.26,"y":2.27},{"x":0.34,"y":2.33},
{"x":-0.63,"y":2.55},{"x":-0.5,"y":2.52},{"x":-0.38,"y":2.58},{"x":-0.26,"y":2.54},{"x":-0.14,"y":2.57},{"x":-0.02,"y":2.53},{"x":0.1,"y":2.56},{"x":0.22,"y":2.52},{"x":0.34,"y":2.57},
{"x":-0.68,"y":2.8},{"x":-0.55,"y":2.77},{"x":-0.43,"y":2.83},{"x":-0.31,"y":2.79},{"x":-0.19,"y":2.82},{"x":-0.07,"y":2.78},{"x":0.05,"y":2.81},{"x":0.17,"y":2.77},{"x":0.29,"y":2.82},{"x":0.39,"y":2.78},
{"x":-0.72,"y":3.05},{"x":-0.6,"y":3.02},{"x":-0.48,"y":3.08},{"x":-0.36,"y":3.04},{"x":-0.24,"y":3.07},{"x":-0.12,"y":3.03},{"x":0.0,"y":3.06},{"x":0.13,"y":3.02},{"x":0.26,"y":3.07},{"x":0.38,"y":3.03},
{"x":-0.76,"y":3.3},{"x":-0.64,"y":3.27},{"x":-0.52,"y":3.33},{"x":-0.4,"y":3.29},{"x":-0.28,"y":3.32},{"x":-0.16,"y":3.28},{"x":-0.04,"y":3.31},{"x":0.1,"y":3.27},{"x":0.23,"y":3.32},{"x":0.36,"y":3.28},{"x":0.44,"y":3.33},
{"x":-0.8,"y":3.55},{"x":-0.68,"y":3.52},{"x":-0.56,"y":3.58},{"x":-0.44,"y":3.54},{"x":-0.32,"y":3.57},{"x":-0.2,"y":3.53},{"x":-0.07,"y":3.56},{"x":0.08,"y":3.52},{"x":0.21,"y":3.57},{"x":0.34,"y":3.53},{"x":0.46,"y":3.56},
{"x":-0.84,"y":3.8},{"x":-0.72,"y":3.77},{"x":-0.6,"y":3.83},{"x":-0.48,"y":3.79},{"x":-0.36,"y":3.82},{"x":-0.23,"y":3.78},{"x":-0.1,"y":3.81},{"x":0.06,"y":3.77},{"x":0.2,"y":3.82},{"x":0.33,"y":3.78},{"x":0.47,"y":3.81},
{"x":-0.88,"y":4.05},{"x":-0.76,"y":4.02},{"x":-0.64,"y":4.08},{"x":-0.52,"y":4.04},{"x":-0.4,"y":4.07},{"x":-0.27,"y":4.03},{"x":-0.12,"y":4.06},{"x":0.1,"y":4.02},{"x":0.24,"y":4.07},{"x":0.37,"y":4.03},{"x":0.5,"y":4.06},
{"x":-0.92,"y":4.3},{"x":-0.8,"y":4.27},{"x":-0.68,"y":4.33},{"x":-0.56,"y":4.29},{"x":-0.44,"y":4.32},{"x":-0.3,"y":4.28},{"x":0.16,"y":4.31},{"x":0.3,"y":4.27},{"x":0.42,"y":4.32},{"x":0.53,"y":4.28},
{"x":-0.96,"y":4.55},{"x":-0.84,"y":4.52},{"x":-0.72,"y":4.58},{"x":-0.6,"y":4.54},{"x":-0.47,"y":4.57},{"x":-0.33,"y":4.53},{"x":0.2,"y":4.56},{"x":0.33,"y":4.52},{"x":0.45,"y":4.57},{"x":0.56,"y":4.53},
{"x":-1.0,"y":4.8},{"x":-0.88,"y":4.77},{"x":-0.76,"y":4.83},{"x":-0.63,"y":4.79},{"x":-0.5,"y":4.82},{"x":-0.37,"y":4.78},{"x":0.24,"y":4.81},{"x":0.37,"y":4.77},{"x":0.49,"y":4.82},{"x":0.6,"y":4.78},
{"x":-1.04,"y":5.1},{"x":-0.92,"y":5.07},{"x":-0.8,"y":5.13},{"x":-0.67,"y":5.09},{"x":-0.54,"y":5.12},{"x":-0.41,"y":5.08},{"x":0.28,"y":5.11},{"x":0.41,"y":5.07},{"x":0.53,"y":5.12},{"x":0.64,"y":5.08},
{"x":-1.08,"y":5.4},{"x":-0.96,"y":5.37},{"x":-0.84,"y":5.43},{"x":-0.71,"y":5.39},{"x":-0.58,"y":5.42},{"x":-0.45,"y":5.38},{"x":0.32,"y":5.41},{"x":0.45,"y":5.37},{"x":0.57,"y":5.42},{"x":0.68,"y":5.38},
{"x":-1.12,"y":5.7},{"x":-1.0,"y":5.67},{"x":-0.88,"y":5.73},{"x":-0.75,"y":5.69},{"x":-0.62,"y":5.72},{"x":-0.5,"y":5.68},{"x":0.36,"y":5.71},{"x":0.49,"y":5.67},{"x":0.61,"y":5.72},{"x":0.73,"y":5.68},
{"x":-1.16,"y":6.0},{"x":-1.04,"y":5.97},{"x":-0.92,"y":6.03},{"x":-0.79,"y":5.99},{"x":-0.66,"y":6.02},{"x":-0.54,"y":5.98},{"x":0.4,"y":6.01},{"x":0.53,"y":5.97},{"x":0.65,"y":6.02},{"x":0.78,"y":5.98},
{"x":-1.2,"y":6.3},{"x":-1.08,"y":6.27},{"x":-0.96,"y":6.33},{"x":-0.83,"y":6.29},{"x":-0.7,"y":6.32},{"x":-0.58,"y":6.28},{"x":0.45,"y":6.31},{"x":0.58,"y":6.27},{"x":0.7,"y":6.32},{"x":0.83,"y":6.28},
{"x":-1.24,"y":6.6},{"x":-1.12,"y":6.57},{"x":-1.0,"y":6.63},{"x":-0.87,"y":6.59},{"x":-0.74,"y":6.62},{"x":-0.62,"y":6.58},{"x":0.5,"y":6.61},{"x":0.63,"y":6.57},{"x":0.75,"y":6.62},{"x":0.88,"y":6.58},
{"x":-1.28,"y":6.9},{"x":-1.16,"y":6.87},{"x":-1.04,"y":6.93},{"x":-0.91,"y":6.89},{"x":-0.78,"y":6.92},{"x":0.55,"y":6.91},{"x":0.68,"y":6.87},{"x":0.8,"y":6.92},{"x":0.93,"y":6.88},
{"x":-1.32,"y":7.2},{"x":-1.2,"y":7.17},{"x":-1.08,"y":7.23},{"x":-0.95,"y":7.19},{"x":-0.82,"y":7.22},{"x":0.6,"y":7.21},{"x":0.73,"y":7.17},{"x":0.86,"y":7.22},{"x":0.98,"y":7.18},
{"x":-1.36,"y":7.5},{"x":-1.24,"y":7.47},{"x":-1.12,"y":7.53},{"x":-0.99,"y":7.49},{"x":-0.87,"y":7.52},{"x":0.66,"y":7.51},{"x":0.8,"y":7.47},{"x":0.93,"y":7.52},{"x":1.05,"y":7.48},
{"x":-1.4,"y":7.8},{"x":-1.27,"y":7.77},{"x":-1.15,"y":7.83},{"x":-1.02,"y":7.79},{"x":0.72,"y":7.81},{"x":0.86,"y":7.77},{"x":1.0,"y":7.82},
{"x":-1.44,"y":8.1},{"x":-1.3,"y":8.07},{"x":-1.17,"y":8.13},{"x":-1.05,"y":8.09},{"x":0.78,"y":8.11},{"x":0.93,"y":8.07},{"x":1.08,"y":8.12},
{"x":-1.48,"y":8.4},{"x":-1.33,"y":8.37},{"x":-1.2,"y":8.43},{"x":0.85,"y":8.41},{"x":1.0,"y":8.37},{"x":1.15,"y":8.42},
{"x":-1.52,"y":8.8},{"x":-1.38,"y":8.77},{"x":-1.24,"y":8.83},{"x":0.9,"y":8.81},{"x":1.1,"y":8.77},{"x":1.25,"y":8.85},
{"x":-1.56,"y":9.2},{"x":-1.42,"y":9.17},{"x":-1.28,"y":9.25},{"x":1.0,"y":9.2},{"x":1.3,"y":9.3},
{"x":-1.6,"y":9.6},{"x":-1.45,"y":9.65},{"x":-1.3,"y":9.55},{"x":1.2,"y":9.6},
{"x":-0.06,"y":0.18},{"x":0.06,"y":0.19},
{"x":-0.14,"y":0.42},{"x":-0.02,"y":0.43},{"x":0.09,"y":0.41},
{"x":-0.22,"y":0.67},{"x":-0.1,"y":0.68},{"x":0.02,"y":0.66},{"x":0.14,"y":0.67},
{"x":-0.27,"y":0.92},{"x":-0.15,"y":0.93},{"x":-0.03,"y":0.91},{"x":0.09,"y":0.92},{"x":0.19,"y":0.93},
{"x":-0.33,"y":1.17},{"x":-0.21,"y":1.18},{"x":-0.09,"y":1.16},{"x":0.03,"y":1.17},{"x":0.15,"y":1.18},{"x":0.24,"y":1.16},
{"x":-0.39,"y":1.42},{"x":-0.27,"y":1.43},{"x":-0.15,"y":1.41},{"x":-0.03,"y":1.42},{"x":0.09,"y":1.43},{"x":0.21,"y":1.41},
{"x":-0.45,"y":1.67},{"x":-0.33,"y":1.68},{"x":-0.21,"y":1.66},{"x":-0.09,"y":1.67},{"x":0.03,"y":1.68},{"x":0.15,"y":1.66},{"x":0.26,"y":1.67},
{"x":-0.5,"y":1.92},{"x":-0.38,"y":1.93},{"x":-0.26,"y":1.91},{"x":-0.14,"y":1.92},{"x":-0.02,"y":1.93},{"x":0.1,"y":1.91},{"x":0.22,"y":1.92},{"x":0.31,"y":1.93},
{"x":-0.55,"y":2.17},{"x":-0.43,"y":2.18},{"x":-0.31,"y":2.16},{"x":-0.19,"y":2.17},{"x":-0.07,"y":2.18},{"x":0.05,"y":2.16},{"x":0.17,"y":2.17},{"x":0.28,"y":2.18},
{"x":-0.6,"y":2.42},{"x":-0.48,"y":2.43},{"x":-0.36,"y":2.41},{"x":-0.24,"y":2.42},{"x":-0.12,"y":2.43},{"x":0.0,"y":2.41},{"x":0.12,"y":2.42},{"x":0.24,"y":2.43},{"x":0.33,"y":2.41},
{"x":-0.66,"y":2.67},{"x":-0.53,"y":2.68},{"x":-0.41,"y":2.66},{"x":-0.29,"y":2.67},{"x":-0.17,"y":2.68},{"x":-0.05,"y":2.66},{"x":0.07,"y":2.67},{"x":0.19,"y":2.68},{"x":0.31,"y":2.66},
{"x":-0.7,"y":2.92},{"x":-0.58,"y":2.93},{"x":-0.46,"y":2.91},{"x":-0.34,"y":2.92},{"x":-0.22,"y":2.93},{"x":-0.1,"y":2.91},{"x":0.02,"y":2.92},{"x":0.14,"y":2.93},{"x":0.27,"y":2.91},{"x":0.37,"y":2.92},
{"x":-0.74,"y":3.17},{"x":-0.62,"y":3.18},{"x":-0.5,"y":3.16},{"x":-0.38,"y":3.17},{"x":-0.26,"y":3.18},{"x":-0.14,"y":3.16},{"x":-0.02,"y":3.17},{"x":0.11,"y":3.18},{"x":0.24,"y":3.16},{"x":0.37,"y":3.17},
{"x":-0.78,"y":3.42},{"x":-0.66,"y":3.43},{"x":-0.54,"y":3.41},{"x":-0.42,"y":3.42},{"x":-0.3,"y":3.43},{"x":-0.18,"y":3.41},{"x":-0.05,"y":3.42},{"x":0.09,"y":3.43},{"x":0.22,"y":3.41},{"x":0.35,"y":3.42},
{"x":-0.82,"y":3.67},{"x":-0.7,"y":3.68},{"x":-0.58,"y":3.66},{"x":-0.46,"y":3.67},{"x":-0.34,"y":3.68},{"x":-0.21,"y":3.66},{"x":-0.08,"y":3.67},{"x":0.07,"y":3.68},{"x":0.2,"y":3.66},{"x":0.34,"y":3.67},
{"x":-0.86,"y":3.92},{"x":-0.74,"y":3.93},{"x":-0.62,"y":3.91},{"x":-0.5,"y":3.92},{"x":-0.38,"y":3.93},{"x":-0.25,"y":3.91},{"x":0.08,"y":3.92},{"x":0.22,"y":3.93},{"x":0.35,"y":3.91},{"x":0.48,"y":3.92},
{"x":-0.9,"y":4.17},{"x":-0.78,"y":4.18},{"x":-0.66,"y":4.16},{"x":-0.54,"y":4.17},{"x":-0.42,"y":4.18},{"x":-0.28,"y":4.16},{"x":0.13,"y":4.17},{"x":0.27,"y":4.18},{"x":0.4,"y":4.16},{"x":0.52,"y":4.17},
{"x":-0.94,"y":4.42},{"x":-0.82,"y":4.43},{"x":-0.7,"y":4.41},{"x":-0.58,"y":4.42},{"x":-0.45,"y":4.43},{"x":-0.31,"y":4.41},{"x":0.18,"y":4.42},{"x":0.31,"y":4.43},{"x":0.44,"y":4.41},{"x":0.55,"y":4.42},
{"x":-0.98,"y":4.67},{"x":-0.86,"y":4.68},{"x":-0.74,"y":4.66},{"x":-0.61,"y":4.67},{"x":-0.48,"y":4.68},{"x":-0.35,"y":4.66},{"x":0.22,"y":4.67},{"x":0.35,"y":4.68},{"x":0.47,"y":4.66},{"x":0.58,"y":4.67},
{"x":-1.02,"y":4.95},{"x":-0.9,"y":4.96},{"x":-0.78,"y":4.94},{"x":-0.65,"y":4.95},{"x":-0.52,"y":4.96},{"x":-0.39,"y":4.94},{"x":0.26,"y":4.95},{"x":0.39,"y":4.96},{"x":0.51,"y":4.94},{"x":0.62,"y":4.95},
{"x":-1.06,"y":5.25},{"x":-0.94,"y":5.26},{"x":-0.82,"y":5.24},{"x":-0.69,"y":5.25},{"x":-0.56,"y":5.26},{"x":-0.43,"y":5.24},{"x":0.3,"y":5.25},{"x":0.43,"y":5.26},{"x":0.55,"y":5.24},{"x":0.66,"y":5.25},
{"x":-1.1,"y":5.55},{"x":-0.98,"y":5.56},{"x":-0.86,"y":5.54},{"x":-0.73,"y":5.55},{"x":-0.6,"y":5.56},{"x":-0.48,"y":5.54},{"x":0.34,"y":5.55},{"x":0.47,"y":5.56},{"x":0.59,"y":5.54},{"x":0.7,"y":5.55},
{"x":-1.14,"y":5.85},{"x":-1.02,"y":5.86},{"x":-0.9,"y":5.84},{"x":-0.77,"y":5.85},{"x":-0.64,"y":5.86},{"x":-0.52,"y":5.84},{"x":0.38,"y":5.85},{"x":0.51,"y":5.86},{"x":0.63,"y":5.84},{"x":0.75,"y":5.85},
{"x":-1.18,"y":6.15},{"x":-1.06,"y":6.16},{"x":-0.94,"y":6.14},{"x":-0.81,"y":6.15},{"x":-0.68,"y":6.16},{"x":-0.56,"y":6.14},{"x":0.43,"y":6.15},{"x":0.56,"y":6.16},{"x":0.68,"y":6.14},{"x":0.8,"y":6.15},
{"x":-1.22,"y":6.45},{"x":-1.1,"y":6.46},{"x":-0.98,"y":6.44},{"x":-0.85,"y":6.45},{"x":-0.72,"y":6.46},{"x":-0.6,"y":6.44},{"x":0.48,"y":6.45},{"x":0.6,"y":6.46},{"x":0.72,"y":6.44},{"x":0.85,"y":6.45},
{"x":-1.26,"y":6.75},{"x":-1.14,"y":6.76},{"x":-1.02,"y":6.74},{"x":-0.89,"y":6.75},{"x":-0.76,"y":6.76},{"x":0.52,"y":6.75},{"x":0.65,"y":6.76},{"x":0.78,"y":6.74},{"x":0.9,"y":6.75},
{"x":-1.3,"y":7.05},{"x":-1.18,"y":7.06},{"x":-1.06,"y":7.04},{"x":-0.93,"y":7.05},{"x":-0.8,"y":7.06},{"x":0.58,"y":7.05},{"x":0.7,"y":7.06},{"x":0.83,"y":7.04},{"x":0.95,"y":7.05},
{"x":-1.34,"y":7.35},{"x":-1.22,"y":7.36},{"x":-1.1,"y":7.34},{"x":-0.97,"y":7.35},{"x":-0.85,"y":7.36},{"x":0.63,"y":7.35},{"x":0.76,"y":7.36},{"x":0.9,"y":7.34},{"x":1.02,"y":7.35},
{"x":-1.38,"y":7.65},{"x":-1.25,"y":7.66},{"x":-1.13,"y":7.64},{"x":-1.0,"y":7.65},{"x":0.69,"y":7.65},{"x":0.83,"y":7.66},{"x":0.96,"y":7.64},
{"x":-1.42,"y":7.95},{"x":-1.28,"y":7.96},{"x":-1.16,"y":7.94},{"x":-1.03,"y":7.95},{"x":0.75,"y":7.95},{"x":0.9,"y":7.96},{"x":1.04,"y":7.94}
],
"Cl": [
{"x":1.53,"y":17.11,"g":"Hddc3"},{"x":5.63,"y":16.76,"g":"Rps13−ps1"},{"x":1.66,"y":15.84,"g":"Mrpl48−ps"},{"x":5.52,"y":14.36,"g":"Cyp2c55"},{"x":1.87,"y":13.24,"g":"Gstm2"},{"x":4.5,"y":13.24,"g":"Hectd2"},{"x":3.55,"y":12.14,"g":"Lpl"},{"x":5.55,"y":11.54,"g":"Sult1e1"},{"x":-2.71,"y":12.4,"g":"Gm4956"},{"x":1.26,"y":11.05,"g":"Cyp2c29"}
],
"E": [
{"gene":"Per2","geno":"wt","zt":2,"v":2.85},{"gene":"Per2","geno":"wt","zt":2,"v":2.24},{"gene":"Per2","geno":"wt","zt":6,"v":2.46},{"gene":"Per2","geno":"wt","zt":6,"v":2.24},{"gene":"Per2","geno":"wt","zt":10,"v":2.68},{"gene":"Per2","geno":"wt","zt":10,"v":2.62},{"gene":"Per2","geno":"wt","zt":14,"v":4.27},{"gene":"Per2","geno":"wt","zt":14,"v":4.24},{"gene":"Per2","geno":"wt","zt":18,"v":4.12},{"gene":"Per2","geno":"wt","zt":18,"v":3.82},{"gene":"Per2","geno":"wt","zt":22,"v":3.47},{"gene":"Per2","geno":"wt","zt":22,"v":3.19},
{"gene":"Per2","geno":"ko","zt":2,"v":2.77},{"gene":"Per2","geno":"ko","zt":2,"v":2.0},{"gene":"Per2","geno":"ko","zt":6,"v":2.82},{"gene":"Per2","geno":"ko","zt":6,"v":2.02},{"gene":"Per2","geno":"ko","zt":10,"v":2.55},{"gene":"Per2","geno":"ko","zt":10,"v":2.5},{"gene":"Per2","geno":"ko","zt":14,"v":4.03},{"gene":"Per2","geno":"ko","zt":14,"v":3.9},{"gene":"Per2","geno":"ko","zt":18,"v":3.79},{"gene":"Per2","geno":"ko","zt":18,"v":3.54},{"gene":"Per2","geno":"ko","zt":22,"v":3.16},{"gene":"Per2","geno":"ko","zt":22,"v":2.26},
{"gene":"Per3","geno":"wt","zt":2,"v":1.2},{"gene":"Per3","geno":"wt","zt":2,"v":1.15},{"gene":"Per3","geno":"wt","zt":6,"v":3.68},{"gene":"Per3","geno":"wt","zt":6,"v":2.99},{"gene":"Per3","geno":"wt","zt":10,"v":3.89},{"gene":"Per3","geno":"wt","zt":10,"v":3.85},{"gene":"Per3","geno":"wt","zt":14,"v":3.24},{"gene":"Per3","geno":"wt","zt":14,"v":3.1},{"gene":"Per3","geno":"wt","zt":18,"v":3.01},{"gene":"Per3","geno":"wt","zt":18,"v":2.78},{"gene":"Per3","geno":"wt","zt":22,"v":1.29},{"gene":"Per3","geno":"wt","zt":22,"v":1.25},
{"gene":"Per3","geno":"ko","zt":2,"v":1.71},{"gene":"Per3","geno":"ko","zt":2,"v":1.44},{"gene":"Per3","geno":"ko","zt":6,"v":1.07},{"gene":"Per3","geno":"ko","zt":6,"v":1.03},{"gene":"Per3","geno":"ko","zt":10,"v":1.32},{"gene":"Per3","geno":"ko","zt":10,"v":1.14},{"gene":"Per3","geno":"ko","zt":14,"v":1.3},{"gene":"Per3","geno":"ko","zt":14,"v":1.13},{"gene":"Per3","geno":"ko","zt":18,"v":1.92},{"gene":"Per3","geno":"ko","zt":18,"v":1.83},{"gene":"Per3","geno":"ko","zt":22,"v":1.78},{"gene":"Per3","geno":"ko","zt":22,"v":1.49},
{"gene":"Hectd2","geno":"wt","zt":2,"v":3.97},{"gene":"Hectd2","geno":"wt","zt":2,"v":3.14},{"gene":"Hectd2","geno":"wt","zt":6,"v":4.95},{"gene":"Hectd2","geno":"wt","zt":6,"v":4.79},{"gene":"Hectd2","geno":"wt","zt":10,"v":3.7},{"gene":"Hectd2","geno":"wt","zt":10,"v":3.25},{"gene":"Hectd2","geno":"wt","zt":14,"v":3.3},{"gene":"Hectd2","geno":"wt","zt":14,"v":3.2},{"gene":"Hectd2","geno":"wt","zt":18,"v":4.16},{"gene":"Hectd2","geno":"wt","zt":18,"v":3.55},{"gene":"Hectd2","geno":"wt","zt":22,"v":3.52},{"gene":"Hectd2","geno":"wt","zt":22,"v":3.2},
{"gene":"Hectd2","geno":"ko","zt":2,"v":7.89},{"gene":"Hectd2","geno":"ko","zt":2,"v":7.32},{"gene":"Hectd2","geno":"ko","zt":6,"v":7.43},{"gene":"Hectd2","geno":"ko","zt":6,"v":7.14},{"gene":"Hectd2","geno":"ko","zt":10,"v":7.38},{"gene":"Hectd2","geno":"ko","zt":10,"v":7.35},{"gene":"Hectd2","geno":"ko","zt":14,"v":7.43},{"gene":"Hectd2","geno":"ko","zt":14,"v":6.87},{"gene":"Hectd2","geno":"ko","zt":18,"v":7.77},{"gene":"Hectd2","geno":"ko","zt":18,"v":7.7},{"gene":"Hectd2","geno":"ko","zt":22,"v":7.45},{"gene":"Hectd2","geno":"ko","zt":22,"v":7.4}
]
},
"spacing": 33,
"vconcat": [
{"spacing": 21.5, "hconcat": [
  {"width": 314, "height": 287, "layer": [
    {"data": {"name": "A"}, "mark": {"type": "circle", "size": 13, "color": "#1a1a1a", "opacity": 0.58},
     "encoding": {
       "x": {"field": "x", "type": "quantitative", "scale": {"domain": [-5.66, 3.31], "nice": false, "zero": false}, "axis": {"values": [-4, -2, 0, 2], "title": "Δamplitude (norm.)"}},
       "y": {"field": "y", "type": "quantitative", "scale": {"domain": [-0.33, 6.85], "nice": false, "zero": false}, "axis": {"values": [0, 2, 4, 6], "title": null, "labelPadding": 7}}}},
    {"data": {"name": "Al"}, "mark": {"type": "text", "fontSize": 15, "color": "#222"},
     "encoding": {"x": {"field": "x", "type": "quantitative"}, "y": {"field": "y", "type": "quantitative"}, "text": {"field": "g"}}}
  ]},
  {"width": 315, "height": 287, "layer": [
    {"data": {"name": "B"}, "mark": {"type": "circle", "size": 13, "color": "#1a1a1a", "opacity": 0.5},
     "encoding": {
       "x": {"field": "x", "type": "quantitative", "scale": {"domain": [-13.2, 13.3], "nice": false, "zero": false}, "axis": {"values": [-12, -6, 0, 6, 12], "title": "Δacrophase (h)"}},
       "y": {"field": "y", "type": "quantitative", "scale": {"domain": [-0.33, 6.85], "nice": false, "zero": false}, "axis": {"values": [0, 2, 4, 6], "title": "−log₁₀(qᴅʀ)", "labelPadding": 10, "titlePadding": 18}}}},
    {"data": {"name": "Bl"}, "mark": {"type": "text", "fontSize": 15, "color": "#222"},
     "encoding": {"x": {"field": "x", "type": "quantitative"}, "y": {"field": "y", "type": "quantitative"}, "text": {"field": "g"}}},
    {"data": {"values": [{"x": -18.1, "y": 6.55, "g": "B"}]}, "mark": {"type": "text", "fontSize": 24, "fontWeight": "bold", "color": "#111"},
     "encoding": {"x": {"field": "x", "type": "quantitative"}, "y": {"field": "y", "type": "quantitative"}, "text": {"field": "g"}}}
  ]}
]},
{"spacing": 25, "hconcat": [
  {"width": 313, "height": 286, "layer": [
    {"data": {"name": "C"}, "mark": {"type": "circle", "size": 13, "color": "#1a1a1a", "opacity": 0.5},
     "encoding": {
       "x": {"field": "x", "type": "quantitative", "scale": {"domain": [-8.0, 7.7], "nice": false, "zero": false}, "axis": {"values": [-8, -4, 0, 4], "title": "log₂(fold−change)"}},
       "y": {"field": "y", "type": "quantitative", "scale": {"domain": [-0.84, 17.7], "nice": false, "zero": false}, "axis": {"values": [0, 5, 10, 15], "title": null, "labelPadding": 2}}}},
    {"data": {"name": "Cl"}, "mark": {"type": "text", "fontSize": 15, "color": "#222"},
     "encoding": {"x": {"field": "x", "type": "quantitative"}, "y": {"field": "y", "type": "quantitative"}, "text": {"field": "g"}}}
  ]},
  {"width": 387, "height": 286, "view": {"stroke": null}, "layer": [
    {"data": {"values": [{"set": "Diff. expressed", "x": 30.9, "y": 38.5}, {"set": "Rhythmic", "x": 69.9, "y": 39.1}]},
     "mark": {"type": "point", "shape": "circle", "filled": false, "size": 51000, "color": "#111", "strokeWidth": 2.7, "opacity": 1},
     "encoding": {"x": {"field": "x", "type": "quantitative", "scale": {"domain": [0, 100], "nice": false, "zero": false}, "axis": null}, "y": {"field": "y", "type": "quantitative", "scale": {"domain": [0, 100], "nice": false, "zero": false}, "axis": null}}},
    {"data": {"values": [{"set": "Diff. rhythmic", "x": 78.9, "y": 39.2}]},
     "mark": {"type": "point", "shape": "circle", "filled": false, "size": 13700, "color": "#111", "strokeWidth": 2.7, "opacity": 1},
     "encoding": {"x": {"field": "x", "type": "quantitative"}, "y": {"field": "y", "type": "quantitative"}}},
    {"data": {"values": [{"t": "Diff. expressed", "x": 25.9, "y": 84.4}, {"t": "Rhythmic", "x": 75.9, "y": 84.4}, {"t": "556", "x": 70.3, "y": 68.1}, {"t": "2801", "x": 26.4, "y": 38.4}, {"t": "237", "x": 50.6, "y": 38.4}, {"t": "1641", "x": 78.5, "y": 38.4}, {"t": "Diff.", "x": 76.3, "y": 24.7}, {"t": "rhythmic", "x": 78.5, "y": 15.5}]},
     "mark": {"type": "text", "font": "Liberation Serif", "fontSize": 25.5, "color": "#111"},
     "encoding": {"x": {"field": "x", "type": "quantitative"}, "y": {"field": "y", "type": "quantitative"}, "text": {"field": "t"}}},
    {"data": {"values": [{"t": "D", "x": 2.0, "y": 96.15}]},
     "mark": {"type": "text", "fontSize": 24, "fontWeight": "bold", "color": "#111"},
     "encoding": {"x": {"field": "x", "type": "quantitative"}, "y": {"field": "y", "type": "quantitative"}, "text": {"field": "t"}}}
  ]}
]},
{"spacing": -4, "vconcat": [
  {"spacing": 12, "hconcat": [
    {"width": 133, "height": 38, "view": {"fill": "#ababab", "stroke": null}, "data": {"values": [{"t": "wild−type"}]}, "mark": {"type": "text", "fontSize": 19, "color": "#1a1a1a"}, "encoding": {"text": {"field": "t"}}},
    {"width": 133, "height": 38, "view": {"fill": "#ababab", "stroke": null}, "layer": [
      {"data": {"values": [{"t": "Arntl"}]}, "mark": {"type": "text", "fontSize": 19, "color": "#1a1a1a", "dx": -13}, "encoding": {"text": {"field": "t"}}},
      {"data": {"values": [{"t": "−/−"}]}, "mark": {"type": "text", "fontSize": 10, "color": "#1a1a1a", "dx": 13, "dy": -7}, "encoding": {"text": {"field": "t"}}}
    ]}
  ]},
  {"spacing": 11.6, "vconcat": [
    {"spacing": 10.8, "hconcat": [
      {"width": 133, "height": 86, "data": {"name": "E"}, "transform": [{"filter": "datum.gene=='Per2'&&datum.geno=='wt'"}],
       "mark": {"type": "point", "shape": "circle", "filled": false, "size": 42, "color": "#111", "strokeWidth": 1.3, "opacity": 1},
       "encoding": {"x": {"field": "zt", "type": "quantitative", "scale": {"domain": [-1.05, 25.1], "nice": false, "zero": false}, "axis": {"values": [0, 6, 12, 18, 24], "labels": false, "ticks": false, "title": null}},
                    "y": {"field": "v", "type": "quantitative", "scale": {"domain": [1.7, 4.6], "nice": false, "zero": false}, "axis": {"values": [2, 2.5, 3, 3.5, 4, 4.5], "format": ".1f", "labelFontSize": 14, "labelPadding": 2, "title": null}}}},
      {"spacing": 0, "hconcat": [
        {"width": 133, "height": 86, "data": {"name": "E"}, "transform": [{"filter": "datum.gene=='Per2'&&datum.geno=='ko'"}],
         "mark": {"type": "point", "shape": "circle", "filled": false, "size": 42, "color": "#111", "strokeWidth": 1.3, "opacity": 1},
         "encoding": {"x": {"field": "zt", "type": "quantitative", "scale": {"domain": [-1.05, 25.1], "nice": false, "zero": false}, "axis": {"values": [0, 6, 12, 18, 24], "labels": false, "ticks": false, "title": null}},
                      "y": {"field": "v", "type": "quantitative", "scale": {"domain": [1.7, 4.6], "nice": false, "zero": false}, "axis": {"values": [2, 2.5, 3, 3.5, 4, 4.5], "labels": false, "ticks": false, "title": null}}}},
        {"width": 39, "height": 86, "view": {"fill": "#ababab", "stroke": null}, "data": {"values": [{"t": "Per2"}]}, "mark": {"type": "text", "angle": 90, "fontSize": 18, "color": "#1a1a1a"}, "encoding": {"text": {"field": "t"}}}
      ]}
    ]},
    {"spacing": 10.8, "hconcat": [
      {"width": 133, "height": 86, "data": {"name": "E"}, "transform": [{"filter": "datum.gene=='Per3'&&datum.geno=='wt'"}],
       "mark": {"type": "point", "shape": "circle", "filled": false, "size": 42, "color": "#111", "strokeWidth": 1.3, "opacity": 1},
       "encoding": {"x": {"field": "zt", "type": "quantitative", "scale": {"domain": [-1.05, 25.1], "nice": false, "zero": false}, "axis": {"values": [0, 6, 12, 18, 24], "labels": false, "ticks": false, "title": null}},
                    "y": {"field": "v", "type": "quantitative", "scale": {"domain": [0.7, 4.25], "nice": false, "zero": false}, "axis": {"values": [1, 2, 3, 4], "labelFontSize": 14, "labelPadding": 2, "title": null}}}},
      {"spacing": 0, "hconcat": [
        {"width": 133, "height": 86, "data": {"name": "E"}, "transform": [{"filter": "datum.gene=='Per3'&&datum.geno=='ko'"}],
         "mark": {"type": "point", "shape": "circle", "filled": false, "size": 42, "color": "#111", "strokeWidth": 1.3, "opacity": 1},
         "encoding": {"x": {"field": "zt", "type": "quantitative", "scale": {"domain": [-1.05, 25.1], "nice": false, "zero": false}, "axis": {"values": [0, 6, 12, 18, 24], "labels": false, "ticks": false, "title": null}},
                      "y": {"field": "v", "type": "quantitative", "scale": {"domain": [0.7, 4.25], "nice": false, "zero": false}, "axis": {"values": [1, 2, 3, 4], "labels": false, "ticks": false, "title": null}}}},
        {"width": 39, "height": 86, "view": {"fill": "#ababab", "stroke": null}, "data": {"values": [{"t": "Per3"}]}, "mark": {"type": "text", "angle": 90, "fontSize": 18, "color": "#1a1a1a"}, "encoding": {"text": {"field": "t"}}}
      ]}
    ]},
    {"spacing": 2.5, "vconcat": [
      {"spacing": 10.8, "hconcat": [
        {"width": 133, "height": 86, "data": {"name": "E"}, "transform": [{"filter": "datum.gene=='Hectd2'&&datum.geno=='wt'"}],
         "mark": {"type": "point", "shape": "circle", "filled": false, "size": 42, "color": "#111", "strokeWidth": 1.3, "opacity": 1},
         "encoding": {"x": {"field": "zt", "type": "quantitative", "scale": {"domain": [-1.05, 25.1], "nice": false, "zero": false}, "axis": {"values": [0, 6, 12, 18, 24], "labelFontSize": 15, "tickSize": 5, "labelPadding": 5, "title": null}},
                      "y": {"field": "v", "type": "quantitative", "scale": {"domain": [2.6, 8.43], "nice": false, "zero": false}, "axis": {"values": [4, 6, 8], "labelFontSize": 14, "labelPadding": 2, "title": null}}}},
        {"spacing": 0, "hconcat": [
          {"width": 133, "height": 86, "data": {"name": "E"}, "transform": [{"filter": "datum.gene=='Hectd2'&&datum.geno=='ko'"}],
           "mark": {"type": "point", "shape": "circle", "filled": false, "size": 42, "color": "#111", "strokeWidth": 1.3, "opacity": 1},
           "encoding": {"x": {"field": "zt", "type": "quantitative", "scale": {"domain": [-1.05, 25.1], "nice": false, "zero": false}, "axis": {"values": [0, 6, 12, 18, 24], "labelFontSize": 15, "tickSize": 5, "labelPadding": 5, "title": null}},
                        "y": {"field": "v", "type": "quantitative", "scale": {"domain": [2.6, 8.43], "nice": false, "zero": false}, "axis": {"values": [4, 6, 8], "labels": false, "ticks": false, "title": null}}}},
          {"width": 39, "height": 86, "view": {"fill": "#ababab", "stroke": null}, "data": {"values": [{"t": "Hectd2"}]}, "mark": {"type": "text", "angle": 90, "fontSize": 18, "color": "#1a1a1a"}, "encoding": {"text": {"field": "t"}}}
        ]}
      ]},
      {"width": 278, "height": 16, "view": {"stroke": null}, "data": {"values": [{"t": "Zeitgeber time (h)"}]}, "mark": {"type": "text", "fontSize": 23, "color": "#1a1a1a"}, "encoding": {"text": {"field": "t"}}}
    ]}
  ]}
]}
]
}
